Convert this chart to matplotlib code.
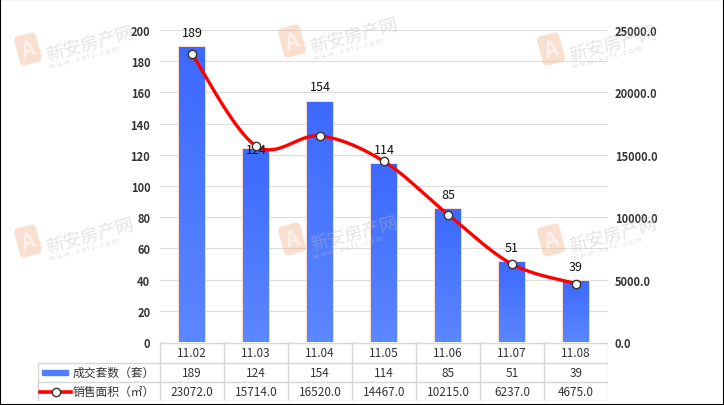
import numpy as np
import matplotlib.pyplot as plt
from matplotlib.patches import Rectangle
from matplotlib.colors import LinearSegmentedColormap

plt.rcParams['font.family'] = ['Noto Sans CJK SC', 'DejaVu Sans']

# --- data ---
dates = ['11.02', '11.03', '11.04', '11.05', '11.06', '11.07', '11.08']
units = [189, 124, 154, 114, 85, 51, 39]
area = [23072.0, 15714.0, 16520.0, 14467.0, 10215.0, 6237.0, 4675.0]
bar_name = '成交套数（套）'
line_name = '销售面积（㎡）'

# label offset above bar (points); the 11.03 label sits on the line marker
label_dy = [6, -5, 6, 6, 6, 6, 6]

W, H = 724, 406
fig = plt.figure(figsize=(W / 100, H / 100), dpi=100)
ax = fig.add_axes([160 / W, (H - 343) / H, 448 / W, 312 / H])
ax2 = ax.twinx()

x = np.arange(len(dates))

# bars with vertical gradient
bars = ax.bar(x, units, width=0.4, color='#4a7aff', edgecolor='#fbd8c6', linewidth=1.2, zorder=2)
grad = np.linspace(0, 1, 256).reshape(-1, 1)
cmap = LinearSegmentedColormap.from_list('g', ['#5b87ff', '#3d69ff'])
for b in bars:
    im = ax.imshow(grad, cmap=cmap, aspect='auto', origin='lower',
                   extent=[b.get_x(), b.get_x() + b.get_width(), 0, b.get_height()], zorder=3)
    im.set_clip_path(b)

ax.set_xlim(-0.5, len(dates) - 0.5)
ax.set_ylim(0, 200)
ax.set_yticks(np.arange(0, 201, 20))
ax.set_xticks([])
ax.grid(axis='y', color='#dddddd', linewidth=0.8, zorder=0)
ax.set_axisbelow(True)
ax.tick_params(axis='y', length=0, pad=7, labelsize=8, labelcolor='#333333')
for t in ax.get_yticklabels():
    t.set_fontweight('bold')
for s in ax.spines.values():
    s.set_visible(False)


# smooth line (Catmull-Rom through the points)
def smooth(xs, ys, n=24):
    pts = np.column_stack([xs, ys]).astype(float)
    P = np.vstack([pts[0], pts, pts[-1]])
    out = []
    t = np.linspace(0, 1, n)[:, None]
    for i in range(len(pts) - 1):
        p0, p1, p2, p3 = P[i], P[i + 1], P[i + 2], P[i + 3]
        seg = 0.5 * (2 * p1 + (-p0 + p2) * t + (2 * p0 - 5 * p1 + 4 * p2 - p3) * t ** 2
                     + (-p0 + 3 * p1 - 3 * p2 + p3) * t ** 3)
        out.append(seg if i == 0 else seg[1:])
    return np.vstack(out)


curve = smooth(x, area)
ax2.plot(curve[:, 0], curve[:, 1], color='#ff0000', linewidth=2.4, zorder=4, solid_capstyle='round')
ax2.set_ylim(0, 25000)
ax2.set_yticks(np.arange(0, 25001, 5000))
ax2.set_yticklabels([f'{v:.1f}' for v in np.arange(0, 25001, 5000)])
ax2.tick_params(axis='y', length=0, pad=5, labelsize=8, labelcolor='#333333')
for t in ax2.get_yticklabels():
    t.set_fontweight('bold')
for s in ax2.spines.values():
    s.set_visible(False)
ax2.set_zorder(ax.get_zorder() + 1)
ax2.patch.set_visible(False)

# bar value labels drawn above the line, markers on top of them
for xi, v in zip(x, units):
    ax2.annotate(str(v), (xi, v * 125), xytext=(0, label_dy[xi]), textcoords='offset points',
                 ha='center', va='bottom', fontsize=9, color='#111111', zorder=5)
ax2.plot(x, area, linestyle='none', marker='o', markersize=6, markerfacecolor='white',
         markeredgecolor='#333333', markeredgewidth=1, zorder=6)

# --- data table below ---
tab = fig.add_axes([37 / W, (H - 402) / H, (608 - 37) / W, 59 / H])


def tx(px):
    return -0.5 + (px - 160) / 64


tab.set_xlim(tx(37), 6.5)
tab.set_ylim(59, 0)
tab.axis('off')
lc = '#d6d6d6'
tab.plot([-0.5, 6.5], [0.5, 0.5], color=lc, lw=1)
for yy in (21, 40, 58.5):
    tab.plot([tx(37.5), 6.5], [yy, yy], color=lc, lw=1)
for k in range(len(dates) + 1):
    tab.plot([-0.5 + k, -0.5 + k], [0, 59], color=lc, lw=1)
tab.plot([tx(37.5), tx(37.5)], [21, 59], color=lc, lw=1)
for xi in x:
    tab.text(xi, 11, dates[xi], ha='center', va='center', fontsize=8.5, color='#333333')
    tab.text(xi, 30.5, str(units[xi]), ha='center', va='center', fontsize=8.5, color='#333333')
    tab.text(xi, 49.5, f'{area[xi]:.1f}', ha='center', va='center', fontsize=8.5, color='#333333')
tab.add_patch(Rectangle((tx(42), 28), tx(68) - tx(42), 5, color='#4f7fff'))
tab.plot([tx(40), tx(71)], [49.5, 49.5], color='#ff0000', lw=2.6)
tab.plot([tx(56)], [49.5], marker='o', markersize=6, markerfacecolor='white',
         markeredgecolor='#333333', markeredgewidth=1)
tab.text(tx(73), 30.5, bar_name, ha='left', va='center', fontsize=8.5, color='#333333')
tab.text(tx(73), 49.5, line_name, ha='left', va='center', fontsize=8.5, color='#333333')

# --- watermarks ---
for cx, cy in [(28, 50), (292, 42), (551, 50), (28, 242), (292, 240), (551, 241)]:
    fig.text(cx / W, 1 - cy / H, 'A', fontsize=15, fontstyle='italic', fontweight='bold',
             color='white', ha='center', va='center', rotation=15, alpha=0.6, zorder=10,
             bbox=dict(boxstyle='round,pad=0.22', fc='#f2b089', ec='none', alpha=0.4))
    fig.text((cx + 16) / W, 1 - (cy - 6) / H, '新安房产网', fontsize=13, color='#bbbbbb',
             ha='left', va='center', rotation=15, alpha=0.4, zorder=10)
    fig.text((cx + 20) / W, 1 - (cy + 8) / H, 'w w w . x a f c . c o m', fontsize=5.5,
             color='#c4c4c4', ha='left', va='center', rotation=15, alpha=0.5, zorder=10)

fig.patches.append(Rectangle((0, 0), 1, 1, transform=fig.transFigure, fill=False,
                             edgecolor='black', linewidth=1.5))

fig.savefig('out.png', dpi=100)
